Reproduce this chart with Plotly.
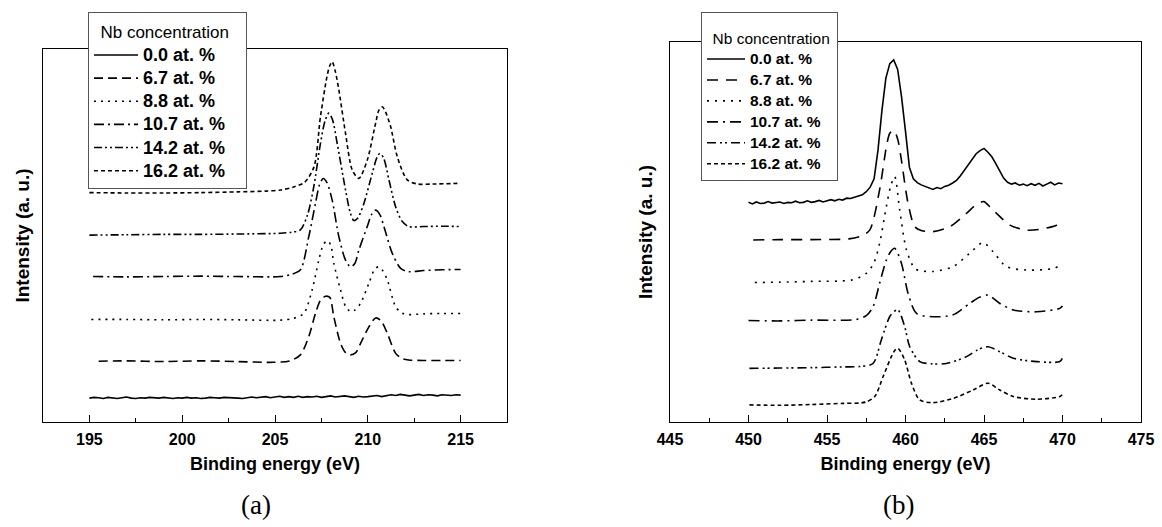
import plotly.graph_objects as go

LABELS = ["0.0 at. %", "6.7 at. %", "8.8 at. %", "10.7 at. %", "14.2 at. %", "16.2 at. %"]
DASHES_A = ["solid", "9px,5px", "2px,5px", "10px,4px,2px,4px", "8px,3px,2px,3px,2px,3px", "4px,3px"]
DASHES_B = ["solid", "11px,8px", "2px,6px", "11px,5px,2px,5px", "9px,4px,2px,3px,2px,4px", "4px,3px"]

# ---------------- Panel (a): Nb 3d ----------------
A_X_00 = [195.0 + 0.25 * i for i in range(81)]
A_Y_00 = [6.4, 6.6, 6.5, 6.3, 6.6, 6.5, 6.3, 6.5, 6.7, 6.4, 6.3, 6.5, 6.4, 6.6, 6.5, 6.4,
          6.6, 6.4, 6.3, 6.5, 6.4, 6.6, 6.4, 6.5, 6.3, 6.4, 6.6, 6.5, 6.4, 6.6, 6.5, 6.3,
          6.4, 6.3, 6.5, 6.7, 6.5, 6.6, 6.8, 6.5, 6.7, 6.9, 6.6, 6.8, 6.6, 6.9, 6.6, 6.8,
          6.7, 6.9, 6.6, 6.8, 7.0, 6.7, 6.8, 7.0, 6.8, 6.6, 6.9, 6.7, 6.8, 7.0, 7.1, 6.8,
          7.0, 7.3, 7.1, 7.4, 7.2, 7.0, 7.2, 7.4, 7.1, 7.3, 7.2, 7.0, 7.3, 7.2, 7.1, 7.3, 7.2]

A_X_67 = [195.5, 197, 199, 201, 203, 204.9, 205.8, 206.37, 206.82, 207.18, 207.45, 207.72, 207.95, 208.17,
          208.53, 208.8, 209.07, 209.35, 209.61, 210.06, 210.42, 210.7, 211.05, 211.5, 211.85, 212.2, 213, 214, 215]
A_Y_67 = [16.3, 16.4, 16.2, 16.4, 16.2, 16.0, 16.4, 18.0, 22.9, 29.1, 32.6, 33.7, 33.4, 28.2,
          21.1, 18.6, 18.0, 18.6, 21.1, 25.5, 27.9, 27.2, 23.8, 18.4, 17.0, 16.6, 16.5, 16.5, 16.5]

A_X_88 = [195.1, 197, 199, 201, 203, 205.29, 206.0, 206.55, 207.0, 207.36, 207.6, 207.81, 208.0, 208.17, 208.53,
          208.8, 209.07, 209.3, 209.61, 210.06, 210.35, 210.56, 210.8, 211.05, 211.5, 211.85, 212.2, 213, 214, 215]
A_Y_88 = [27.5, 27.5, 27.4, 27.5, 27.4, 27.3, 27.8, 29.1, 35.4, 43.4, 47.5, 48.6, 47.5, 42.5, 35.4,
          31.0, 29.6, 30.0, 31.8, 37.2, 40.8, 41.6, 40.6, 38.1, 30.9, 29.2, 28.8, 29.0, 29.1, 29.1]

A_X_107 = [195.2, 197, 199, 201, 203, 205.29, 205.9, 206.37, 206.82, 207.18, 207.4, 207.6, 207.8, 208.08, 208.44,
           208.8, 209.07, 209.3, 209.52, 209.97, 210.2, 210.42, 210.65, 210.87, 211.32, 211.77, 212.2, 213, 214, 215]
A_Y_107 = [39.0, 38.9, 39.0, 39.1, 39.0, 39.0, 39.6, 40.8, 49.7, 58.6, 63.6, 65.3, 64.2, 59.5, 49.7,
           43.4, 41.6, 42.5, 46.1, 52.4, 55.6, 56.8, 55.6, 52.4, 45.2, 41.2, 40.3, 40.6, 40.8, 40.9]

A_X_142 = [195, 197, 199, 201, 203, 205.29, 205.9, 206.37, 206.75, 207.09, 207.45, 207.7, 207.9, 208.1, 208.35,
           208.8, 209.05, 209.25, 209.45, 209.79, 210.24, 210.5, 210.65, 210.85, 211.14, 211.5, 211.85, 212.2,
           213, 214, 215]
A_Y_142 = [50.1, 50.2, 50.3, 50.3, 50.4, 50.6, 50.9, 51.5, 55.5, 63.1, 74.7, 80.8, 82.8, 81.0, 74.7,
           62.2, 56.2, 54.0, 54.6, 58.6, 66.7, 71.0, 72.0, 70.8, 64.9, 57.7, 53.8, 52.4,
           52.4, 52.5, 52.4]

A_X_162 = [195, 197, 199, 201, 203, 204.5, 205.3, 206.0, 206.6, 207.1, 207.45, 207.8, 207.95, 208.08, 208.25,
           208.44, 208.8, 209.16, 209.52, 209.97, 210.42, 210.6, 210.78, 210.95, 211.23, 211.59, 212.13, 212.7,
           213.5, 215]
A_Y_162 = [61.5, 61.4, 61.4, 61.5, 61.7, 61.9, 62.2, 63.0, 64.3, 68.4, 81.9, 92.6, 95.5, 96.6, 94.0,
           89.0, 77.4, 67.6, 65.3, 70.2, 80.1, 83.6, 84.5, 83.2, 79.2, 71.1, 64.9, 63.8,
           63.8, 64.0]

# ---------------- Panel (b): Ti 2p ----------------
B_X_00 = [450.0 + 0.25 * i for i in range(81)]
B_Y_00 = [57.8, 57.4, 57.9, 57.5, 57.6, 58.0, 57.6, 57.7, 57.9, 57.5, 57.8, 57.7, 58.1, 57.7, 57.8, 58.2,
          57.8, 58.0, 58.3, 57.9, 58.1, 58.5, 58.2, 58.6, 58.4, 58.9, 58.8, 59.2, 59.4, 59.8, 60.6, 61.8,
          64.0, 71.6, 82.0, 90.5, 94.3, 95.3, 92.8, 85.5, 76.5, 67.0, 64.0, 63.0, 62.4, 62.0, 61.6, 61.2,
          61.7, 61.4, 62.0, 62.3, 62.9, 63.6, 64.8, 66.2, 67.5, 69.0, 70.6, 71.4, 72.0, 71.0, 69.8, 68.0,
          66.0, 64.2, 63.1, 62.6, 62.9, 62.3, 62.6, 62.2, 62.7, 62.3, 62.8, 62.1, 62.6, 63.1, 62.4, 62.9, 62.7]

B_X_67 = [450.3, 452, 454, 456.4, 457.2, 457.72, 458.35, 458.78, 459.0, 459.25, 459.5, 459.74, 460.16, 460.59,
          461.0, 461.75, 462.82, 463.88, 464.5, 464.99, 465.4, 465.8, 466.65, 467.71, 468.7, 469.62, 470]
B_Y_67 = [47.9, 48.0, 48.0, 48.2, 49.0, 50.5, 61.1, 72.4, 76.0, 76.8, 74.5, 68.9, 57.6, 51.4,
          50.4, 50.1, 51.4, 54.9, 57.2, 58.0, 56.5, 54.9, 51.8, 50.5, 50.8, 51.8, 52.7]

B_X_88 = [450.4, 452, 454, 456.6, 457.5, 458.0, 458.35, 458.78, 459.05, 459.31, 459.63, 460.06, 460.59, 461.0,
          461.75, 463.03, 464.09, 464.94, 465.58, 466.43, 467.71, 469.41, 470]
B_Y_88 = [36.7, 36.8, 37.0, 37.4, 39.1, 42.0, 47.0, 56.7, 62.0, 64.6, 55.8, 45.3, 40.4, 39.8,
          39.6, 40.9, 44.4, 47.2, 44.8, 40.9, 40.0, 40.4, 41.5]

B_X_107 = [450, 452, 454, 456.87, 457.5, 457.93, 458.35, 458.78, 459.05, 459.31, 459.74, 460.16, 460.7, 461.75,
           463.03, 464.09, 464.7, 465.26, 466.01, 466.86, 468.35, 469.83, 470]
B_Y_107 = [26.7, 26.6, 26.8, 27.0, 28.0, 30.3, 36.5, 42.6, 44.8, 45.7, 41.8, 33.9, 28.6, 27.7,
           28.2, 31.2, 32.8, 33.4, 31.2, 29.5, 29.0, 29.9, 30.5]

B_X_142 = [450.06, 452, 454, 456, 457.08, 457.93, 458.46, 458.99, 459.25, 459.52, 459.95, 460.27, 460.91, 461.7,
           462.6, 463.88, 464.6, 465.26, 466.01, 466.86, 468.35, 469.83, 470]
B_Y_142 = [14.1, 14.2, 14.3, 14.5, 14.6, 15.4, 21.6, 27.7, 29.0, 29.5, 25.1, 19.8, 15.9, 15.3,
           15.4, 17.2, 19.0, 19.8, 18.5, 16.8, 15.9, 15.9, 16.9]

B_X_162 = [450.06, 452, 454, 456, 457.08, 457.5, 458.04, 458.57, 459.1, 459.35, 459.52, 459.95, 460.38, 460.91,
           461.75, 463.03, 464.3, 465.26, 466.01, 466.86, 468.35, 469.83, 470]
B_Y_162 = [4.5, 4.4, 4.6, 4.9, 5.0, 5.3, 6.7, 11.9, 17.2, 19.0, 19.4, 16.3, 10.2, 5.8,
           5.1, 6.2, 8.4, 10.2, 8.4, 6.7, 6.0, 6.7, 7.3]

A_SERIES = [(A_X_00, A_Y_00), (A_X_67, A_Y_67), (A_X_88, A_Y_88),
            (A_X_107, A_Y_107), (A_X_142, A_Y_142), (A_X_162, A_Y_162)]
B_SERIES = [(B_X_00, B_Y_00), (B_X_67, B_Y_67), (B_X_88, B_Y_88),
            (B_X_107, B_Y_107), (B_X_142, B_Y_142), (B_X_162, B_Y_162)]

SANS = "Liberation Sans"
SERIF = "Liberation Serif"

fig = go.Figure()
for i, (x, y) in enumerate(A_SERIES):
    fig.add_trace(go.Scatter(
        x=x, y=y, mode="lines",
        name='<span style="font-size:18px"><b>%s</b></span>' % LABELS[i],
        line=dict(color="black", width=1.6, dash=DASHES_A[i],
                  shape="linear" if i == 0 else "spline", smoothing=0.8),
        xaxis="x", yaxis="y", legend="legend"))
for i, (x, y) in enumerate(B_SERIES):
    fig.add_trace(go.Scatter(
        x=x, y=y, mode="lines",
        name='<span style="font-size:15.5px"><b>%s</b></span>' % LABELS[i],
        line=dict(color="black", width=1.6, dash=DASHES_B[i],
                  shape="linear" if i == 0 else "spline", smoothing=0.8),
        xaxis="x2", yaxis="y2", legend="legend2"))

W, H = 1162, 527


def xax(domain, rng, t0):
    return dict(domain=domain, range=rng, tickmode="linear", tick0=t0, dtick=5,
                ticks="inside", ticklen=7, tickwidth=1.3, tickcolor="black",
                minor=dict(ticks="inside", ticklen=4, tickwidth=1.3, tickcolor="black", dtick=2.5, tick0=t0),
                showline=True, mirror=True, linecolor="black", linewidth=1.3,
                showgrid=False, zeroline=False, automargin=False, ticklabelstandoff=3,
                tickfont=dict(family=SANS, size=16, color="black", weight="bold"),
                title=dict(text="<b>Binding energy (eV)</b>", standoff=10,
                           font=dict(family=SANS, size=18, color="black")))


def yax(domain, standoff):
    return dict(domain=domain, range=[0, 100], showticklabels=False, ticks="",
                showline=True, mirror=True, linecolor="black", linewidth=1.3,
                showgrid=False, zeroline=False, automargin=False,
                title=dict(text="<b>Intensity (a. u.)</b>", standoff=standoff,
                           font=dict(family=SANS, size=19, color="black")))


fig.update_layout(
    width=W, height=H, margin=dict(l=0, r=0, t=0, b=0, autoexpand=False),
    paper_bgcolor="white", plot_bgcolor="white",
    xaxis=dict(anchor="y", **xax([43 / W, 507 / W], [192.5, 217.5], 195)),
    yaxis=dict(anchor="x", **yax([1 - 422 / H, 1 - 49 / H], 7)),
    xaxis2=dict(anchor="y2", **xax([670 / W, 1141 / W], [445, 475], 445)),
    yaxis2=dict(anchor="x2", **yax([1 - 422 / H, 1 - 42 / H], 11)),
    legend=dict(x=88 / W, y=1 - 12 / H, xanchor="left", yanchor="top", itemwidth=44,
                bgcolor="white", bordercolor="#555", borderwidth=1,
                font=dict(family=SANS, size=15.5, color="black"),
                title=dict(text='<span style="font-size:17px">&nbsp;&nbsp;Nb concentration&nbsp;&nbsp;&nbsp;</span>',
                           font=dict(family=SANS, size=19.5, color="black"))),
    legend2=dict(x=701 / W, y=1 - 12 / H, xanchor="left", yanchor="top", itemwidth=38,
                 bgcolor="white", bordercolor="#555", borderwidth=1,
                 font=dict(family=SANS, size=13.8, color="black"),
                 title=dict(text='<span style="font-size:15.5px">&nbsp;&nbsp;Nb concentration&nbsp;</span>',
                            font=dict(family=SANS, size=23.5, color="black"))),
    annotations=[
        dict(text="(a)", x=256 / W, y=1 - 505 / H, xref="paper", yref="paper", showarrow=False,
             xanchor="center", yanchor="middle",
             font=dict(family=SERIF, size=27, color="black")),
        dict(text="(b)", x=898 / W, y=1 - 505 / H, xref="paper", yref="paper", showarrow=False,
             xanchor="center", yanchor="middle",
             font=dict(family=SERIF, size=27, color="black")),
    ],
)

fig.write_html("out.html", config={"displayModeBar": False},
               post_script="document.body.style.margin='0';")
